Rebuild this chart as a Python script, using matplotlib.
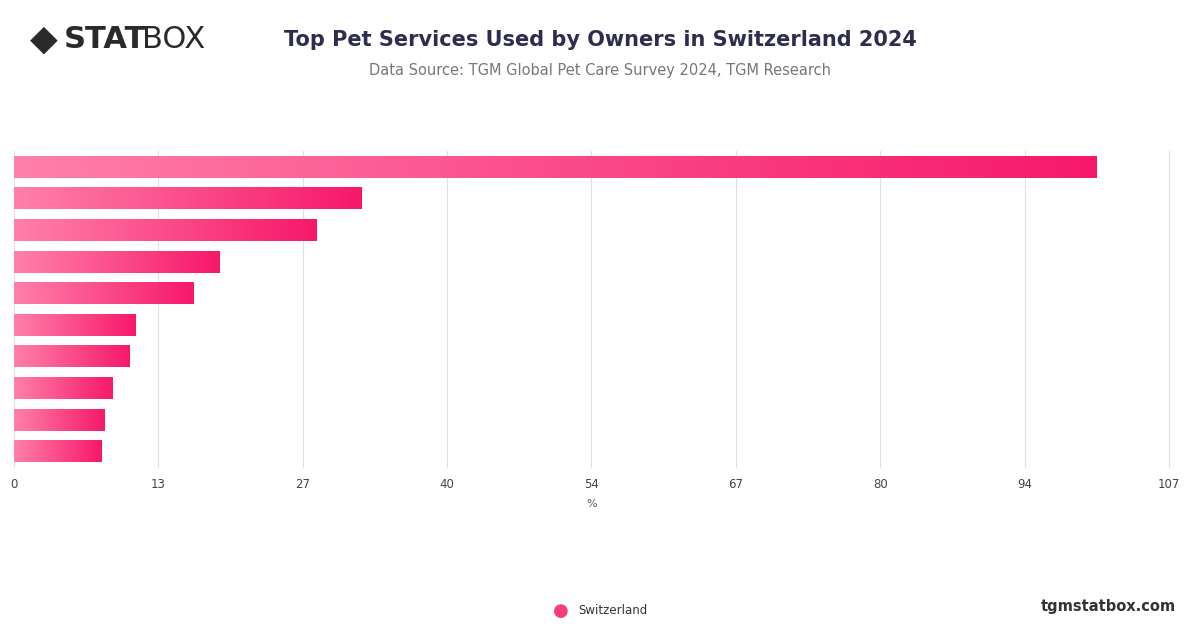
import matplotlib
matplotlib.use("Agg")
import matplotlib.pyplot as plt
import numpy as np
from matplotlib.colors import LinearSegmentedColormap

values = [100.3, 32.2, 28.0, 19.0, 16.6, 11.3, 10.7, 9.1, 8.4, 8.1]
ticks = [0, 13.375, 26.75, 40.125, 53.5, 66.875, 80.25, 93.625, 107]
tick_labels = ["0", "13", "27", "40", "54", "67", "80", "94", "107"]

fig = plt.figure(figsize=(12, 6.28), dpi=100)
ax = fig.add_axes([14/1200, 1-467/628, (1169-14)/1200, (467-151)/628])
cmap = LinearSegmentedColormap.from_list("pk", ["#ff80aa", "#f7186a"])
grad = np.linspace(0, 1, 256).reshape(1, -1)
for i, v in enumerate(values):
    ax.imshow(grad, cmap=cmap, extent=[0, v, i + 0.345, i - 0.345], aspect="auto", zorder=3)
ax.set_xlim(0, 107)
ax.set_ylim(9.5, -0.5)
ax.set_xticks(ticks)
ax.set_xticklabels(tick_labels, fontsize=8.5, color="#444444")
ax.set_yticks([])
ax.tick_params(axis="x", length=0, pad=8)
for t in ticks:
    ax.axvline(t, color="#e0e0e0", linewidth=0.8, zorder=0, clip_on=False)
for s in ax.spines.values():
    s.set_visible(False)
ax.set_xlabel("%", fontsize=8, color="#555555", labelpad=6)

fig.text(600/1200, 1-40/628, "Top Pet Services Used by Owners in Switzerland 2024", ha="center", va="center",
         fontsize=15, fontweight="bold", color="#2e2d4d")
fig.text(600/1200, 1-71/628, "Data Source: TGM Global Pet Care Survey 2024, TGM Research", ha="center", va="center",
         fontsize=10.5, color="#777777")
fig.text(44/1200, 1-40/628, "◆", ha="center", va="center", fontsize=26, color="#2a2a2a")
fig.text(64/1200, 1-40/628, "STAT", ha="left", va="center", fontsize=22, fontweight="bold", color="#2a2a2a")
fig.text(142/1200, 1-40/628, "BOX", ha="left", va="center", fontsize=22, color="#2a2a2a")
fig.text(561/1200, 1-611/628, "●", ha="center", va="center", fontsize=13, color="#f53d7f")
fig.text(578/1200, 1-611/628, "Switzerland", ha="left", va="center", fontsize=8.5, color="#333333")
fig.text(1176/1200, 1-606/628, "tgmstatbox.com", ha="right", va="center", fontsize=10.5, fontweight="bold", color="#333333")
fig.savefig("out.png", dpi=100)
